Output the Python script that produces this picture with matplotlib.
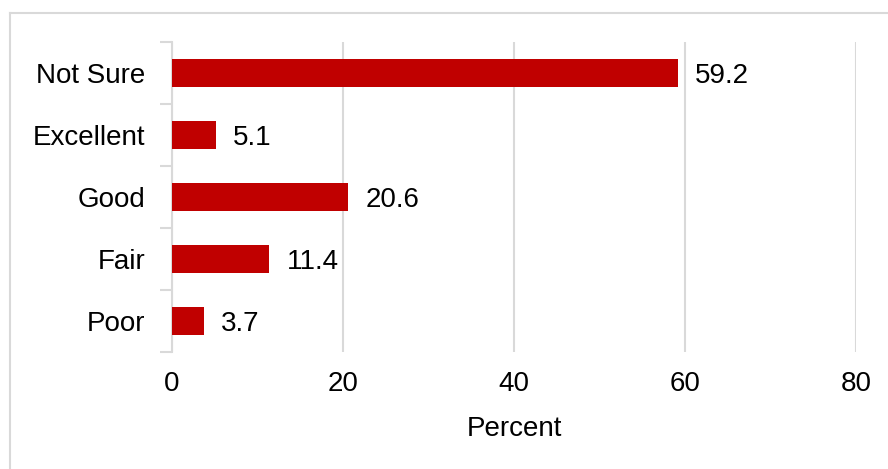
import matplotlib.pyplot as plt
from matplotlib.lines import Line2D
import numpy as np

plt.rcParams['font.family'] = ['Liberation Sans', 'DejaVu Sans']

categories = ['Not Sure', 'Excellent', 'Good', 'Fair', 'Poor']
values = [59.2, 5.1, 20.6, 11.4, 3.7]
xticks = [0, 20, 40, 60, 80]

gray = '#D9D9D9'
red = '#C00000'
fs = 20

fig = plt.figure(figsize=(8.88, 4.69), dpi=100)
ax = fig.add_axes([172/888, 1-352/469, (856-172)/888, (352-42)/469])

y = np.arange(len(categories))
ax.barh(y, values, height=0.44, color=red, zorder=3)
for yi, v in zip(y, values):
    ax.text(v + 2.0, yi, f'{v:.1f}', va='center_baseline', ha='left', fontsize=fs)

ax.set_ylim(len(categories) - 0.5, -0.5)
ax.set_xlim(0, 80)
ax.set_xticks(xticks)
ax.set_yticks(y)
ax.set_yticklabels(categories, fontsize=fs)
ax.set_yticks(np.arange(-0.5, len(categories)), minor=True)
ax.tick_params(axis='y', which='major', length=0, pad=19)
ax.tick_params(axis='y', which='minor', length=9, color=gray, width=1.5)
ax.tick_params(axis='x', length=0, labelsize=fs, pad=14)
ax.xaxis.grid(True, color=gray, linewidth=1.5, zorder=0)
for s in ['top', 'right', 'bottom']:
    ax.spines[s].set_visible(False)
ax.spines['left'].set_color(gray)
ax.spines['left'].set_linewidth(1.5)
ax.set_xlabel('Percent', fontsize=fs, labelpad=13)

# outer frame
fig.add_artist(Line2D([10/888, 1], [1-13/469, 1-13/469], color=gray, linewidth=1.5))
fig.add_artist(Line2D([10/888, 10/888], [0, 1-13/469], color=gray, linewidth=1.5))

fig.savefig('out.png', dpi=100)
